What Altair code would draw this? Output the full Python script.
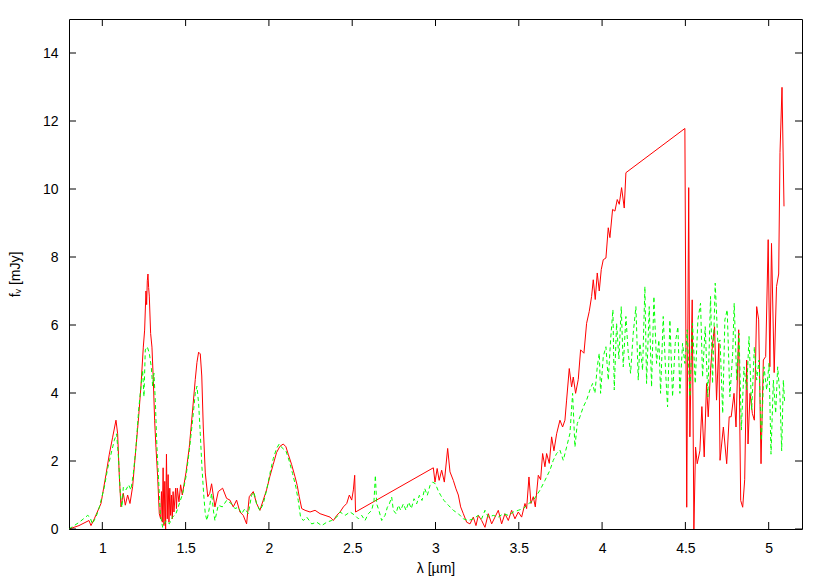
import altair as alt
import pandas as pd

# ---- data ----
red_wl = [0.80, 0.86, 0.92, 0.932, 0.952, 0.992, 1.022, 1.042, 1.062, 1.082, 1.092, 1.102, 1.112,
          1.126, 1.138, 1.152, 1.166, 1.182, 1.202, 1.218, 1.232, 1.246, 1.254, 1.262, 1.266, 1.270,
          1.274, 1.278, 1.282, 1.290, 1.298, 1.306, 1.314, 1.322, 1.332, 1.342,
          1.350, 1.355, 1.360, 1.365, 1.370, 1.375, 1.380, 1.385, 1.390, 1.395, 1.400, 1.405,
          1.410, 1.415, 1.420, 1.425, 1.430, 1.440, 1.445, 1.450, 1.460, 1.470, 1.480, 1.490,
          1.502, 1.522, 1.542, 1.558, 1.568, 1.578, 1.588, 1.597, 1.606, 1.618, 1.633, 1.645,
          1.656, 1.676, 1.696, 1.722, 1.746, 1.766, 1.786, 1.806, 1.826, 1.846, 1.866, 1.882,
          1.906, 1.926, 1.946, 1.966, 1.986, 2.006, 2.026, 2.046, 2.066, 2.086, 2.102, 2.116,
          2.136, 2.156, 2.170, 2.182, 2.197, 2.217, 2.247, 2.277, 2.307, 2.337, 2.367, 2.387,
          2.407, 2.427, 2.447, 2.467, 2.483, 2.497, 2.507, 2.515, 2.520,
          2.987, 2.997, 3.010, 3.022, 3.037, 3.053, 3.073, 3.087, 3.107, 3.123, 3.137, 3.151,
          3.167, 3.187, 3.207, 3.227, 3.243, 3.257, 3.277, 3.297, 3.317, 3.337, 3.357, 3.377,
          3.397, 3.417, 3.437, 3.457, 3.477, 3.497, 3.517, 3.537, 3.547, 3.561, 3.573, 3.587,
          3.599, 3.617, 3.631, 3.643, 3.657, 3.667, 3.683, 3.697, 3.711, 3.727, 3.747, 3.763,
          3.777, 3.787, 3.803, 3.817, 3.827, 3.841, 3.857, 3.871, 3.891, 3.907, 3.923, 3.937,
          3.947, 3.959, 3.971, 3.983, 3.995, 4.007, 4.023, 4.037, 4.047, 4.063, 4.077, 4.091,
          4.103, 4.117, 4.133, 4.143,
          4.497, 4.508, 4.520, 4.527, 4.541, 4.551, 4.561, 4.571, 4.587, 4.599, 4.613, 4.627,
          4.637, 4.651, 4.663, 4.675, 4.687, 4.701, 4.708, 4.728, 4.748, 4.763, 4.775, 4.792,
          4.804, 4.820, 4.832, 4.844, 4.856, 4.868, 4.876, 4.888, 4.902, 4.914, 4.928, 4.940,
          4.954, 4.968, 4.982, 4.997, 5.007, 5.017, 5.033, 5.047, 5.060, 5.068, 5.080, 5.092]
red_flux = [0.00, 0.10, 0.25, 0.10, 0.30, 0.75, 1.60, 2.20, 2.70, 3.20, 2.80, 1.55, 0.65,
            1.05, 0.70, 1.00, 0.75, 1.25, 2.40, 3.30, 4.20, 5.35, 5.85, 7.00, 6.60, 7.30,
            7.50, 7.10, 6.85, 5.75, 5.35, 4.40, 3.20, 2.40, 1.55, 0.45,
            0.30, 1.10, 0.20, 1.80, 0.10, 1.40, 0.00, 2.20, 0.30, 1.60, 0.20, 1.20,
            0.40, 1.00, 0.30, 1.10, 0.50, 1.20, 0.60, 1.20, 0.80, 1.30, 1.00, 1.30,
            1.65, 2.40, 3.50, 4.40, 4.90, 5.20, 5.15, 4.50, 3.00, 1.65, 0.95, 1.05,
            1.33, 0.65, 1.10, 1.20, 0.90, 0.85, 0.65, 0.85, 0.50, 0.40, 0.15, 0.95,
            1.10, 0.75, 0.55, 0.85, 1.15, 1.55, 1.90, 2.25, 2.43, 2.50, 2.42, 2.20,
            1.90, 1.55, 1.28, 0.95, 0.60, 0.55, 0.50, 0.55, 0.45, 0.40, 0.35, 0.25,
            0.40, 0.50, 0.65, 0.75, 1.00, 0.85, 1.15, 1.58, 0.50,
            1.80, 1.38, 1.78, 1.43, 1.73, 1.38, 2.37, 1.68, 1.43, 1.18, 1.00, 0.65,
            0.45, 0.20, 0.15, 0.35, 0.10, 0.40, 0.25, 0.05, 0.45, 0.15, 0.35, 0.55,
            0.15, 0.45, 0.25, 0.55, 0.30, 0.50, 0.35, 0.75, 0.60, 1.53, 0.75, 0.95,
            0.65, 1.58, 1.45, 2.22, 1.83, 2.22, 1.93, 2.71, 2.30, 2.80, 3.20, 3.00,
            3.20, 3.79, 4.72, 4.18, 4.47, 3.99, 4.40, 5.27, 5.17, 6.05, 6.40, 6.84,
            7.33, 6.75, 7.53, 7.00, 7.63, 7.92, 7.97, 8.86, 8.57, 9.40, 9.35, 9.69,
            9.55, 10.04, 9.44, 10.48,
            11.78, 0.64, 10.04, 2.71, 6.74, 0.00, 2.41, 1.92, 2.30, 3.60, 2.12, 4.28,
            3.30, 4.67, 5.46, 5.95, 3.79, 5.46, 2.02, 3.00, 1.92, 3.30, 3.30, 3.99,
            3.00, 5.86, 0.84, 0.64, 1.45, 4.97, 2.50, 3.99, 3.40, 3.20, 6.54, 6.15,
            1.92, 4.97, 5.07, 8.51, 4.77, 8.40, 4.60, 7.13, 7.50, 11.07, 12.99, 9.49]

green_wl = [0.80, 0.862, 0.912, 0.926, 0.940, 0.962, 0.982, 1.012, 1.032, 1.052, 1.072, 1.086,
            1.098, 1.108, 1.118, 1.126, 1.142, 1.158, 1.172, 1.186, 1.202, 1.218, 1.232, 1.242,
            1.250, 1.258, 1.270, 1.282, 1.294, 1.302, 1.310, 1.318, 1.328, 1.338, 1.348, 1.362,
            1.382, 1.402, 1.422, 1.442, 1.462, 1.482, 1.502, 1.522, 1.542, 1.558, 1.568, 1.578,
            1.588, 1.598, 1.608, 1.618, 1.628, 1.642, 1.656, 1.668, 1.676, 1.696, 1.720, 1.746,
            1.776, 1.796, 1.816, 1.836, 1.856, 1.876, 1.896, 1.910, 1.926, 1.946, 1.966, 1.986,
            2.006, 2.026, 2.046, 2.062, 2.082, 2.102, 2.122, 2.142, 2.162, 2.176, 2.190, 2.207,
            2.227, 2.257, 2.287, 2.317, 2.347, 2.377, 2.407, 2.427, 2.457, 2.487, 2.517, 2.537,
            2.557, 2.577, 2.597, 2.617, 2.631, 2.639, 2.647, 2.660, 2.677, 2.697, 2.711, 2.723,
            2.737, 2.747, 2.763, 2.777, 2.791, 2.807, 2.823, 2.839, 2.855, 2.871, 2.887, 2.903,
            2.919, 2.935, 2.951, 2.967, 2.983, 2.999, 3.015, 3.031, 3.051, 3.077, 3.107, 3.137,
            3.167, 3.197, 3.227, 3.257, 3.277, 3.297, 3.317, 3.347, 3.377, 3.407, 3.437, 3.467,
            3.497, 3.527, 3.557, 3.587, 3.627, 3.657, 3.687, 3.707, 3.727, 3.747, 3.767, 3.787,
            3.807, 3.823, 3.837, 3.851, 3.867, 3.887, 3.907, 3.927, 3.943, 3.957, 3.971, 3.983,
            3.991, 4.007, 4.023, 4.037, 4.051, 4.065, 4.073, 4.087, 4.101, 4.115, 4.127, 4.143,
            4.157, 4.171, 4.187, 4.203, 4.217, 4.227, 4.243, 4.257, 4.267, 4.283, 4.297, 4.311,
            4.327, 4.341, 4.351, 4.367, 4.383, 4.393, 4.407, 4.423, 4.439, 4.455, 4.467, 4.483,
            4.497, 4.511, 4.527, 4.543, 4.559, 4.575, 4.591, 4.603, 4.619, 4.635, 4.651, 4.663,
            4.679, 4.695, 4.708, 4.724, 4.737, 4.751, 4.767, 4.784, 4.793, 4.808, 4.822, 4.836,
            4.852, 4.868, 4.882, 4.898, 4.914, 4.928, 4.942, 4.956, 4.972, 4.988, 5.002, 5.014,
            5.028, 5.042, 5.054, 5.068, 5.078, 5.088, 5.096]
green_flux = [0.00, 0.20, 0.40, 0.35, 0.15, 0.35, 0.64, 1.23, 1.78, 2.20, 2.61, 2.80,
              2.02, 1.05, 0.64, 1.23, 1.15, 1.30, 1.15, 1.63, 2.40, 3.50, 4.20, 4.67,
              3.89, 5.27, 5.36, 5.17, 4.77, 4.20, 4.58, 3.79, 2.40, 1.43, 0.45, 0.05,
              0.24, 0.15, 0.35, 0.45, 0.74, 1.04, 1.53, 2.30, 3.20, 3.99, 4.20, 3.70,
              2.80, 1.82, 1.05, 0.45, 0.25, 0.60, 1.05, 0.50, 0.25, 0.70, 0.65, 0.84,
              0.74, 0.60, 0.64, 0.45, 0.60, 0.45, 0.99, 1.09, 0.74, 0.54, 0.74, 1.14,
              1.63, 2.07, 2.37, 2.50, 2.37, 2.30, 2.00, 1.63, 1.23, 0.84, 0.35, 0.25,
              0.35, 0.15, 0.20, 0.10, 0.20, 0.25, 0.35, 0.50, 0.40, 0.50, 0.40, 0.30,
              0.40, 0.25, 0.45, 0.55, 0.84, 1.58, 0.74, 0.55, 0.25, 0.40, 0.64, 0.74,
              0.94, 0.55, 0.45, 0.70, 0.55, 0.74, 0.55, 0.79, 0.60, 0.89, 0.74, 0.99,
              0.84, 1.19, 0.99, 1.28, 1.38, 1.33, 1.14, 0.99, 0.84, 0.70, 0.55, 0.45,
              0.30, 0.25, 0.30, 0.40, 0.30, 0.55, 0.35, 0.40, 0.35, 0.45, 0.40, 0.50,
              0.55, 0.60, 0.74, 0.84, 1.14, 1.43, 1.73, 2.02, 2.22, 2.32, 2.02, 2.41,
              2.81, 3.99, 2.41, 3.10, 3.30, 3.59, 3.79, 4.09, 4.28, 3.99, 4.77, 5.17,
              3.99, 5.07, 5.36, 4.38, 5.56, 6.45, 4.09, 6.05, 5.00, 6.54, 4.77, 6.25,
              5.17, 4.58, 5.76, 6.54, 4.38, 5.46, 4.67, 7.13, 4.28, 6.54, 4.18, 6.84,
              4.87, 5.56, 3.99, 6.25, 4.47, 3.59, 6.15, 3.89, 5.46, 5.95, 3.99, 5.46,
              4.87, 5.86, 3.89, 6.05, 4.28, 6.15, 6.64, 4.47, 5.95, 3.89, 6.84, 4.28,
              7.23, 5.46, 5.56, 3.40, 6.15, 6.45, 3.89, 5.17, 6.64, 4.38, 5.76, 2.91,
              4.77, 4.09, 5.66, 3.50, 5.36, 4.38, 4.97, 2.60, 4.77, 4.09, 4.87, 2.20,
              4.38, 3.40, 4.77, 3.89, 2.30, 4.38, 3.70]

x_ticks = [1, 1.5, 2, 2.5, 3, 3.5, 4, 4.5, 5]
y_ticks = [0, 2, 4, 6, 8, 10, 12, 14]

# ---- chart ----
W, H = 733, 510
TICK = 7
FONT = "Liberation Sans"

red = pd.DataFrame({"wl": red_wl, "flux": red_flux, "i": list(range(len(red_wl)))})
green = pd.DataFrame({"wl": green_wl, "flux": green_flux, "i": list(range(len(green_wl)))})
xt = pd.DataFrame({"wl": x_ticks})
yt = pd.DataFrame({"flux": y_ticks})

xs = alt.Scale(domain=[0.8, 5.2], nice=False, zero=False)
ys = alt.Scale(domain=[0, 15], nice=False)

x_axis = alt.Axis(values=x_ticks, format="~g", grid=False, domain=False, ticks=False, tickSize=0,
                  labelFont=FONT, labelFontSize=14, labelColor="black", labelPadding=12,
                  title="λ [µm]", titleFont=FONT, titleFontSize=14, titleFontWeight="normal",
                  titleColor="black", titlePadding=6)
y_axis = alt.Axis(values=y_ticks, format="d", grid=False, domain=False, ticks=False, tickSize=0,
                  labelFont=FONT, labelFontSize=14, labelColor="black", labelPadding=11,
                  title="fᵥ [mJy]", titleFont=FONT, titleFontSize=14, titleFontWeight="normal",
                  titleColor="black", titlePadding=20)

X = alt.X("wl:Q", scale=xs, axis=x_axis)
Y = alt.Y("flux:Q", scale=ys, axis=y_axis)

red_line = alt.Chart(red).mark_line(color="#ff0000", strokeWidth=1, clip=True).encode(
    x=X, y=Y, order="i:Q")
green_line = alt.Chart(green).mark_line(color="#00ff00", strokeWidth=1, strokeDash=[4, 3], clip=True).encode(
    x=X, y=Y, order="i:Q")

tick_bottom = alt.Chart(xt).mark_rule(color="black", strokeWidth=1).encode(
    x=X, y=alt.value(H), y2=alt.value(H - TICK))
tick_top = alt.Chart(xt).mark_rule(color="black", strokeWidth=1).encode(
    x=X, y=alt.value(0), y2=alt.value(TICK))
tick_left = alt.Chart(yt).mark_rule(color="black", strokeWidth=1).encode(
    y=Y, x=alt.value(0), x2=alt.value(TICK))
tick_right = alt.Chart(yt).mark_rule(color="black", strokeWidth=1).encode(
    y=Y, x=alt.value(W), x2=alt.value(W - TICK))

chart = alt.layer(red_line, green_line, tick_bottom, tick_top, tick_left, tick_right).properties(
    width=W, height=H,
    autosize=alt.AutoSizeParams(type="none"),
    padding={"left": 61, "top": 11, "right": 20, "bottom": 52},
    background="white",
).configure_view(stroke="black", strokeWidth=1)

chart.save("out.html", embed_options={"renderer": "svg", "actions": False})
